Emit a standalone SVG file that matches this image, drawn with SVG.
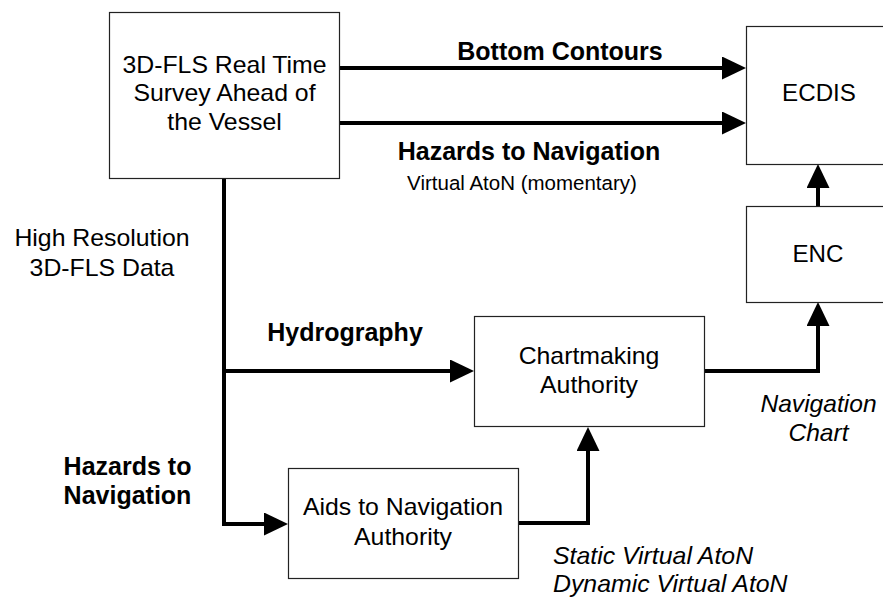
<svg xmlns="http://www.w3.org/2000/svg" width="883" height="599" viewBox="0 0 883 599">
<style>
.box{fill:#fff;stroke:#222;stroke-width:1.2}
.t{font-family:"Liberation Sans",Arial,sans-serif;font-size:23px;fill:#000;text-anchor:middle}
.ti{font-family:"Liberation Sans",Arial,sans-serif;font-size:23px;font-style:italic;fill:#000}
.tb{font-family:"Liberation Sans",Arial,sans-serif;font-size:25px;font-weight:bold;fill:#000;text-anchor:middle}
.ts{font-family:"Liberation Sans",Arial,sans-serif;font-size:20.5px;fill:#000;text-anchor:middle}
.c{fill:none;stroke:#000;stroke-width:4;stroke-linejoin:miter;stroke-linecap:butt}
</style>
<defs>
<marker id="ah" markerUnits="userSpaceOnUse" markerWidth="25" markerHeight="23" refX="0" refY="11.5" orient="auto">
<path d="M0,0 L24,11.5 L0,23 z" fill="#000"/>
</marker>
</defs>
<rect width="883" height="599" fill="#fff"/>
<g id="connectors">
<path class="c" d="M339,68 H722" marker-end="url(#ah)"/>
<path class="c" d="M339,123 H722" marker-end="url(#ah)"/>
<path class="c" d="M818,206 V188" marker-end="url(#ah)"/>
<path class="c" d="M224,178 V524 H264" marker-end="url(#ah)"/>
<path class="c" d="M224,371 H450" marker-end="url(#ah)"/>
<path class="c" d="M704,371 H818 V326" marker-end="url(#ah)"/>
<path class="c" d="M518,523 H588 V451" marker-end="url(#ah)"/>
</g>
<g id="survey">
<rect class="box" x="109.5" y="12.5" width="230" height="166"/>
<text class="t" transform="translate(224.5,72.5) scale(1.08,1)"><tspan x="0" y="0">3D-FLS Real Time</tspan><tspan x="0" y="29">Survey Ahead of</tspan><tspan x="0" y="58">the Vessel</tspan></text>
</g>
<g id="ecdis">
<rect class="box" x="746.5" y="26.5" width="145" height="138"/>
<text class="t" transform="translate(819,101) scale(1.05,1)">ECDIS</text>
</g>
<g id="enc">
<rect class="box" x="746.5" y="206.5" width="145" height="96"/>
<text class="t" transform="translate(818,262) scale(1.05,1)">ENC</text>
</g>
<g id="chartmaking">
<rect class="box" x="474.5" y="316.5" width="230" height="110"/>
<text class="t" transform="translate(589,364) scale(1.08,1)"><tspan x="0" y="0">Chartmaking</tspan><tspan x="0" y="29.5">Authority</tspan></text>
</g>
<g id="aids">
<rect class="box" x="288.5" y="468.5" width="230" height="110"/>
<text class="t" transform="translate(403,515) scale(1.08,1)"><tspan x="0" y="0">Aids to Navigation</tspan><tspan x="0" y="30">Authority</tspan></text>
</g>
<g id="labels">
<text class="tb" x="560" y="60">Bottom Contours</text>
<text class="tb" x="529" y="160">Hazards to Navigation</text>
<text class="ts" x="522" y="190">Virtual AtoN (momentary)</text>
<text class="t" transform="translate(102,245.5) scale(1.08,1)"><tspan x="0" y="0">High Resolution</tspan><tspan x="0" y="30.5">3D-FLS Data</tspan></text>
<text class="tb" x="345" y="341">Hydrography</text>
<text class="tb" x="127.5" y="475"><tspan x="127.5" y="475">Hazards to</tspan><tspan x="127.5" y="503.5">Navigation</tspan></text>
<text class="ti" text-anchor="middle" transform="translate(818.5,411.5) scale(1.07,1)"><tspan x="0" y="0">Navigation</tspan><tspan x="0" y="30">Chart</tspan></text>
<text class="ti" transform="translate(553,563.5) scale(1.08,1)"><tspan x="0" y="0">Static Virtual AtoN</tspan><tspan x="0" y="28.5">Dynamic Virtual AtoN</tspan></text>
</g>
</svg>
